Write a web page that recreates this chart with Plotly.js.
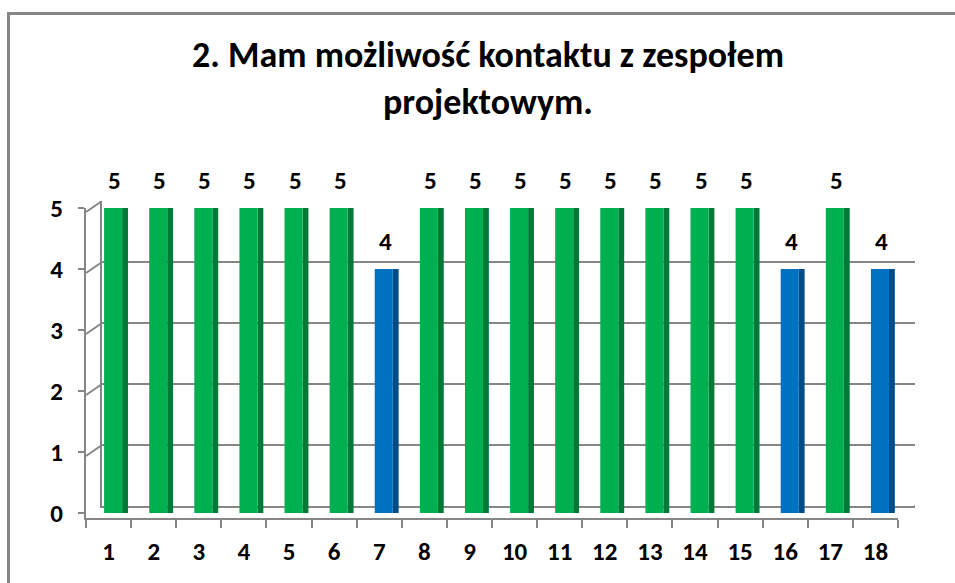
<!DOCTYPE html>
<html>
<head>
<meta charset="utf-8">
<script src="https://cdn.plot.ly/plotly-3.0.1.min.js"></script>
<style>
  html, body { margin:0; padding:0; background:#fff; overflow:hidden; }
  #wrap { position:relative; width:955px; height:583px; overflow:hidden; }
  #chart { position:absolute; left:0; top:0; width:955px; height:583px; }
  #frame { position:absolute; left:7px; top:12px; width:1000px; height:1000px;
           border-left:3px solid #868686; border-top:3px solid #868686; pointer-events:none; }
</style>
</head>
<body>
<div id="wrap"><div id="chart"></div><div id="frame"></div></div>
<script>
const categories = ["1","2","3","4","5","6","7","8","9","10","11","12","13","14","15","16","17","18"];
const values = [5,5,5,5,5,5,4,5,5,5,5,5,5,5,5,4,5,4];
const yTicks = [0,1,2,3,4,5];
const titleText = "2. Mam możliwość kontaktu z zespołem<br>projektowym.";

const FONT = "Carlito, Calibri, Lato, 'Liberation Sans', sans-serif";
const faceColor = values.map(v => v === 5 ? "#00B050" : "#0070C0");
const sideColor = values.map(v => v === 5 ? "#007A36" : "#004C88");

const front = {
  type: "bar", x: categories, y: values, xaxis: "x2", yaxis: "y2",
  offset: -0.10, width: 0.40,
  marker: { color: faceColor, line: { width: 0 } },
  hoverinfo: "skip", showlegend: false
};
const side = {
  type: "bar", x: categories, y: values, xaxis: "x2", yaxis: "y2",
  offset: 0.30, width: 0.13,
  marker: { color: sideColor, line: { width: 0 } },
  hoverinfo: "skip", showlegend: false
};
const back = {
  type: "scatter", x: categories, y: values.map(() => null), xaxis: "x", yaxis: "y",
  mode: "markers", hoverinfo: "skip", showlegend: false
};

const annotations = categories.map((c, i) => ({
  x: i, y: values[i], xref: "x2", yref: "y2",
  text: String(values[i]), showarrow: false,
  xshift: 6, yshift: 28,
  font: { family: FONT, size: 25, color: "#000", weight: "bold" }
}));

// perspective connectors between front axis and back wall
const shapes = yTicks.map(t => ({
  type: "line", xref: "paper", yref: "y",
  x0: 0.0901, x1: 0.1068, y0: t - 0.18, y1: t,
  line: { color: "#868686", width: 2 }
}));
shapes.push({
  type: "line", xref: "paper", yref: "y",
  x0: 0.9403, x1: 0.9581, y0: -0.18, y1: 0,
  line: { color: "#868686", width: 2 }
});

const layout = {
  width: 955, height: 583,
  margin: { l: 0, r: 0, t: 0, b: 0 },
  paper_bgcolor: "#fff", plot_bgcolor: "rgba(0,0,0,0)",
  barmode: "overlay",
  title: {
    text: titleText, x: 0.511, xanchor: "center", y: 0.885, yanchor: "top",
    font: { family: FONT, size: 36, color: "#000", weight: "bold" }
  },
  xaxis: {
    domain: [0.1068, 0.9581], type: "category", range: [-0.5, 17.5],
    showgrid: false, showticklabels: false, ticks: "",
    showline: true, linecolor: "#868686", linewidth: 2, zeroline: false
  },
  yaxis: {
    domain: [0.1321, 0.6552], range: [0, 5], tickvals: yTicks,
    showgrid: true, gridcolor: "#868686", gridwidth: 2,
    showticklabels: false, ticks: "", zeroline: false,
    showline: true, linecolor: "#868686", linewidth: 2
  },
  xaxis2: {
    domain: [0.0901, 0.9403], anchor: "y2", type: "category", range: [-0.5, 17.5],
    showgrid: false, showline: true, linecolor: "#868686", linewidth: 2,
    ticks: "outside", tickson: "boundaries", ticklen: 8, tickwidth: 2, tickcolor: "#868686",
    ticklabelstandoff: 10,
    tickfont: { family: FONT, size: 25, color: "#000", weight: "bold" }
  },
  yaxis2: {
    domain: [0.1115, 0.6432], anchor: "x2", range: [-0.08, 5], tickvals: yTicks,
    showgrid: false, zeroline: false,
    showline: true, linecolor: "#868686", linewidth: 2,
    ticks: "outside", ticklen: 6, tickwidth: 2, tickcolor: "#868686",
    ticklabelstandoff: 10,
    tickfont: { family: FONT, size: 25, color: "#000", weight: "bold" }
  },
  shapes: shapes,
  annotations: annotations
};

Plotly.newPlot("chart", [back, side, front], layout, { staticPlot: true, displayModeBar: false });
</script>
</body>
</html>
